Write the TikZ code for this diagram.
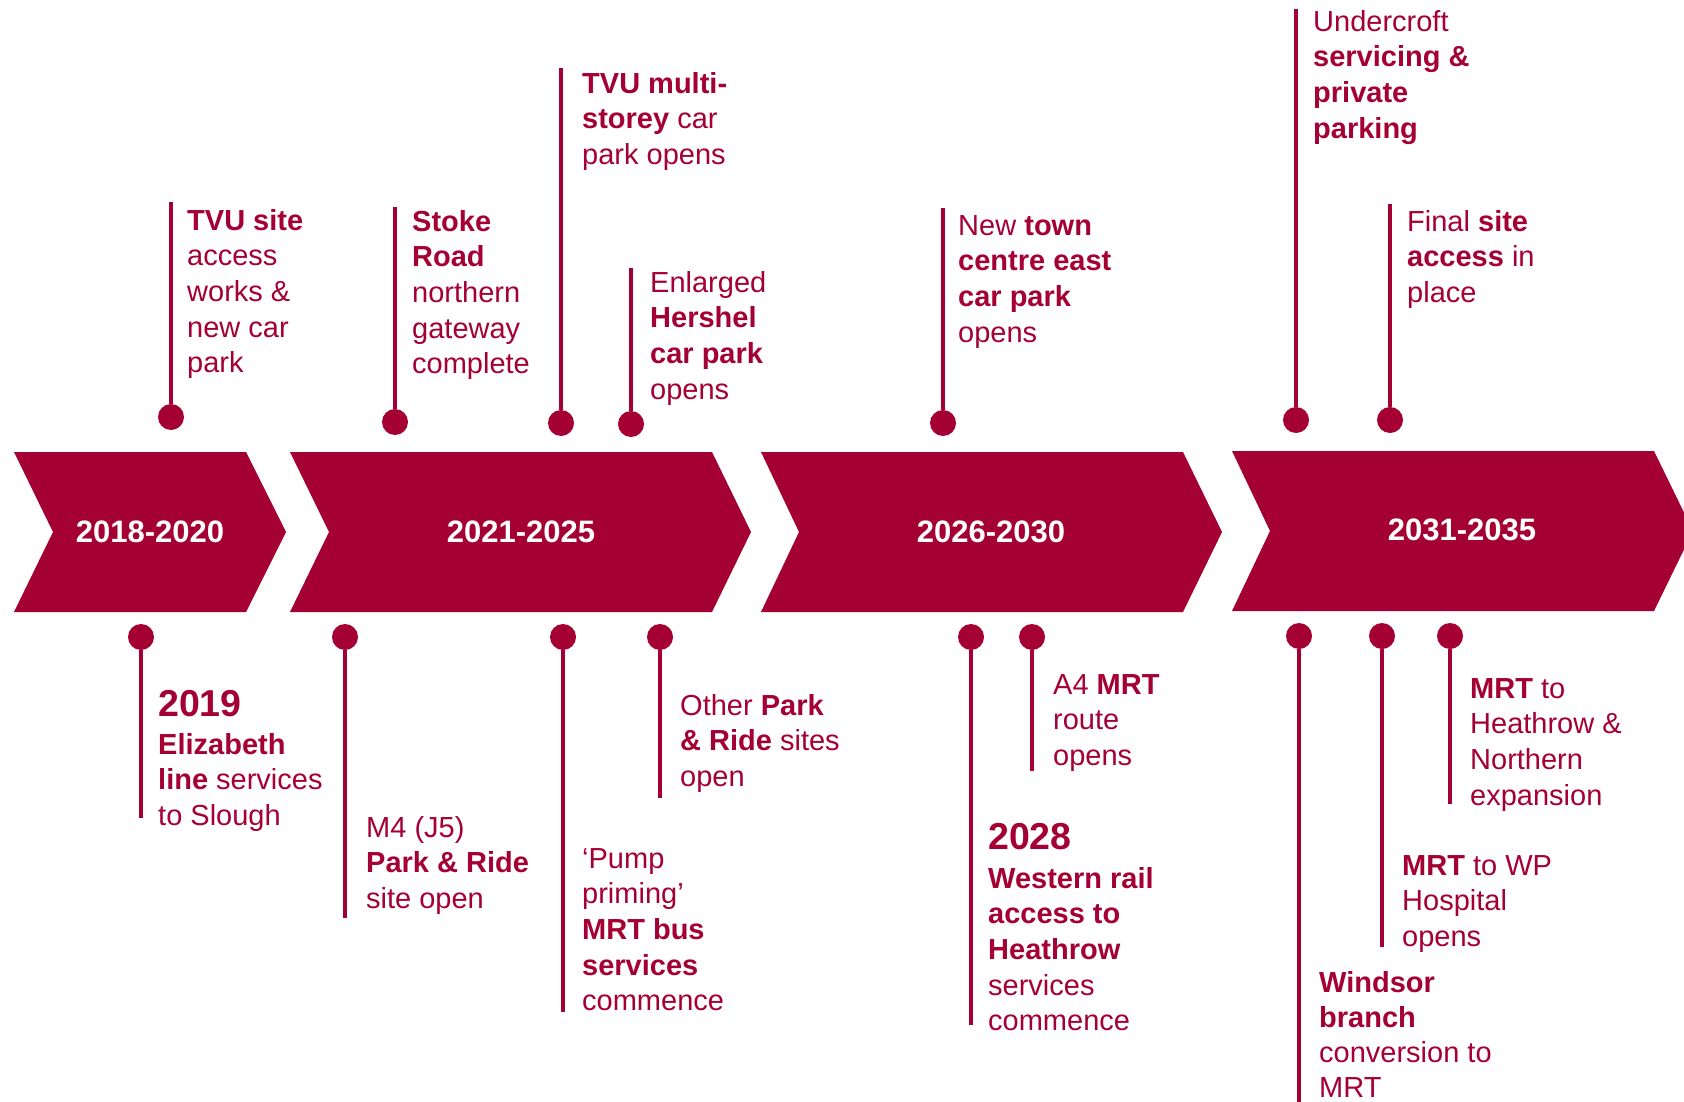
\documentclass[tikz,border=0pt]{standalone}
\usepackage{fontspec}
\setmainfont{Liberation Sans}
\definecolor{tvured}{HTML}{A50034}
\begin{document}
\begin{tikzpicture}[x=1pt,y=-1pt]
 \tikzset{dot/.style={circle, fill=tvured, inner sep=0pt, minimum size=26pt}}
 \tikzset{stem/.style={draw=tvured, line width=4pt}}
 \tikzset{note/.style={anchor=north west, align=left, inner sep=0pt, text=tvured, font=\fontsize{29}{35.7}\selectfont}}
 \tikzset{period/.style={text=white, font=\bfseries\fontsize{31}{35}\selectfont}}
 \useasboundingbox (0,0) rectangle (1684,1102);
 \clip (0,0) rectangle (1684,1102);
  % time bands
  \fill[tvured] (14,452) -- (246,452) -- (286,532) -- (246,612) -- (14,612) -- (53,532) -- cycle;
  \fill[tvured] (290,452) -- (712,452) -- (751,532) -- (712,612) -- (290,612) -- (329,532) -- cycle;
  \fill[tvured] (761,452) -- (1183,452) -- (1222,532) -- (1183,612) -- (761,612) -- (799,532) -- cycle;
  \fill[tvured] (1232,451) -- (1654,451) -- (1693,531) -- (1654,611) -- (1232,611) -- (1270,531) -- cycle;
  \node[period] (p1) at (150,532) {2018-2020};
  \node[period] (p2) at (521,532) {2021-2025};
  \node[period] (p3) at (991,532) {2026-2030};
  \node[period] (p4) at (1462,530) {2031-2035};
  % above the bands
  \node[dot] (d1) at (171,417) {};
  \coordinate (e1) at (171,202);
  \draw[stem] (d1) -- (e1);
  \node[note] (t1) at (187,205) {\strut\textbf{TVU site}\\access\\works \&\\new car\\park};
  \node[dot] (d2) at (395,422) {};
  \coordinate (e2) at (395,207);
  \draw[stem] (d2) -- (e2);
  \node[note] (t2) at (412,206) {\strut\textbf{Stoke}\\\textbf{Road}\\northern\\gateway\\complete};
  \node[dot] (d3) at (561,423) {};
  \coordinate (e3) at (561,68);
  \draw[stem] (d3) -- (e3);
  \node[note] (t3) at (582,68) {\strut\textbf{TVU multi-}\\\textbf{storey} car\\park opens};
  \node[dot] (d4) at (631,424) {};
  \coordinate (e4) at (631,268);
  \draw[stem] (d4) -- (e4);
  \node[note] (t4) at (650,267) {\strut Enlarged\\\textbf{Hershel}\\\textbf{car park}\\opens};
  \node[dot] (d5) at (943,423) {};
  \coordinate (e5) at (943,208);
  \draw[stem] (d5) -- (e5);
  \node[note] (t5) at (958,210) {\strut New \textbf{town}\\\textbf{centre east}\\\textbf{car park}\\opens};
  \node[dot] (d6) at (1296,420) {};
  \coordinate (e6) at (1296,9);
  \draw[stem] (d6) -- (e6);
  \node[note] (t6) at (1313,6) {\strut Undercroft\\\textbf{servicing \&}\\\textbf{private}\\\textbf{parking}};
  \node[dot] (d7) at (1390,420) {};
  \coordinate (e7) at (1390,204);
  \draw[stem] (d7) -- (e7);
  \node[note] (t7) at (1407,206) {\strut Final \textbf{site}\\\textbf{access} in\\place};
  % below the bands
  \node[dot] (d8) at (141,637) {};
  \coordinate (e8) at (141,818);
  \draw[stem] (d8) -- (e8);
  \node[note] (t8) at (158,690) {\strut{\fontsize{37.5}{36}\selectfont\bfseries 2019}\\[2pt]\textbf{Elizabeth}\\\textbf{line} services\\to Slough};
  \node[dot] (d9) at (345,637) {};
  \coordinate (e9) at (345,918);
  \draw[stem] (d9) -- (e9);
  \node[note] (t9) at (366,812) {\strut M4 (J5)\\\textbf{Park \& Ride}\\site open};
  \node[dot] (d10) at (563,637) {};
  \coordinate (e10) at (563,1012);
  \draw[stem] (d10) -- (e10);
  \node[note] (t10) at (582,843) {\strut ‘Pump\\priming’\\\textbf{MRT bus}\\\textbf{services}\\commence};
  \node[dot] (d11) at (660,637) {};
  \coordinate (e11) at (660,798);
  \draw[stem] (d11) -- (e11);
  \node[note] (t11) at (680,690) {\strut Other \textbf{Park}\\\textbf{\& Ride} sites\\open};
  \node[dot] (d12) at (971,637) {};
  \coordinate (e12) at (971,1025);
  \draw[stem] (d12) -- (e12);
  \node[note] (t12) at (988,823) {\strut{\fontsize{37.5}{36}\selectfont\bfseries 2028}\\[3pt]\textbf{Western rail}\\\textbf{access to}\\\textbf{Heathrow}\\services\\commence};
  \node[dot] (d13) at (1032,637) {};
  \coordinate (e13) at (1032,771);
  \draw[stem] (d13) -- (e13);
  \node[note] (t13) at (1053,669) {\strut A4 \textbf{MRT}\\route\\opens};
  \node[dot] (d14) at (1299,636) {};
  \coordinate (e14) at (1299,1110);
  \draw[stem] (d14) -- (e14);
  \node[note] (t14) at (1319,967) {\strut\textbf{Windsor}\\[-0.5pt]\textbf{branch}\\[-0.5pt]conversion to\\[-1pt]MRT};
  \node[dot] (d15) at (1382,636) {};
  \coordinate (e15) at (1382,947);
  \draw[stem] (d15) -- (e15);
  \node[note] (t15) at (1402,850) {\strut\textbf{MRT} to WP\\Hospital\\opens};
  \node[dot] (d16) at (1450,636) {};
  \coordinate (e16) at (1450,804);
  \draw[stem] (d16) -- (e16);
  \node[note] (t16) at (1470,673) {\strut\textbf{MRT} to\\Heathrow \&\\Northern\\expansion};
\end{tikzpicture}
\end{document}
